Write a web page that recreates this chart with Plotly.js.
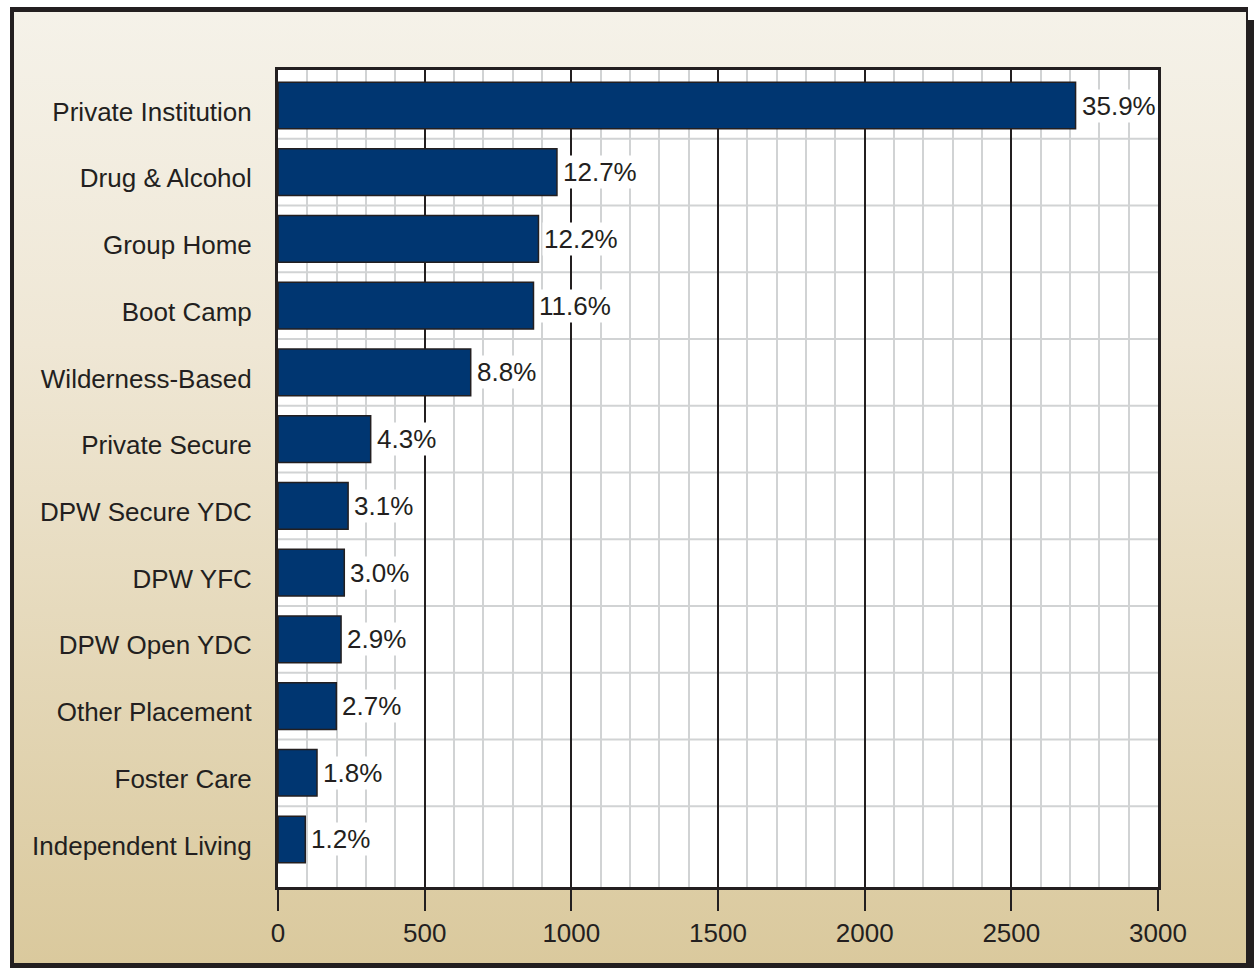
<!DOCTYPE html>
<html>
<head>
<meta charset="utf-8">
<script src="https://cdn.plot.ly/plotly-3.0.1.min.js"></script>
<style>
  html, body { margin: 0; padding: 0; width: 1254px; height: 968px; overflow: hidden; background: #ffffff; }
  #frame { position: absolute; left: 10px; top: 7px; width: 1238px; height: 961px; box-sizing: border-box;
           border-left: 4px solid #231f20; border-top: 5px solid #231f20; border-right: 2px solid #231f20; border-bottom: 5px solid #231f20;
           background: linear-gradient(to bottom, #f5f2e9 0%, #efe7d5 35%, #dac99d 100%); }
  #shadow { position: absolute; left: 1246px; top: 20px; width: 8px; height: 948px; background: #231f20; }
  #chart { position: absolute; left: 0; top: 0; width: 1254px; height: 968px; }
</style>
</head>
<body>
<div id="frame"></div>
<div id="shadow"></div>
<div id="chart"></div>
<script>
const categories = ["Private Institution", "Drug & Alcohol", "Group Home", "Boot Camp", "Wilderness-Based",
  "Private Secure", "DPW Secure YDC", "DPW YFC", "DPW Open YDC", "Other Placement", "Foster Care", "Independent Living"];
const values = [2719, 951, 888, 871, 657, 316, 239, 226, 215, 199, 133, 93];
const pctLabels = ["35.9%", "12.7%", "12.2%", "11.6%", "8.8%", "4.3%", "3.1%", "3.0%", "2.9%", "2.7%", "1.8%", "1.2%"];
const xTicks = [0, 500, 1000, 1500, 2000, 2500, 3000];

const ink = "#231f20";
const fontFam = "'Liberation Sans', Arial, Helvetica, sans-serif";

const trace = {
  type: "bar",
  orientation: "h",
  x: values,
  y: categories,
  width: 0.7,
  marker: { color: "#003671", line: { color: ink, width: 1.5 } },
  hoverinfo: "x+y"
};

const annotations = categories.map((c, i) => ({
  x: values[i], y: c, xref: "x", yref: "y",
  text: pctLabels[i], showarrow: false,
  xanchor: "left", yanchor: "middle", xshift: 4,
  bgcolor: "#ffffff", borderpad: 1,
  font: { family: fontFam, size: 26, color: ink }
}));

const shapes = categories.slice(0, -1).map((c, i) => ({
  type: "line", xref: "paper", x0: 0, x1: 1, yref: "y", y0: i + 0.5, y1: i + 0.5,
  line: { color: "#d1d3d4", width: 2 }, layer: "below"
}));

const layout = {
  width: 1254, height: 968,
  margin: { l: 278, r: 96, t: 70, b: 81, pad: 0 },
  paper_bgcolor: "rgba(0,0,0,0)",
  plot_bgcolor: "#ffffff",
  showlegend: false,
  font: { family: fontFam, size: 26, color: ink },
  xaxis: {
    range: [0, 3000], tickvals: xTicks, ticktext: xTicks.map(String),
    showgrid: true, gridcolor: ink, gridwidth: 2,
    minor: { dtick: 100, tick0: 0, showgrid: true, gridcolor: "#d1d3d4", gridwidth: 2, ticks: "" },
    ticks: "outside", ticklen: 21, tickwidth: 2, tickcolor: ink,
    showline: true, mirror: true, linecolor: ink, linewidth: 3,
    zeroline: false, tickfont: { family: fontFam, size: 26, color: ink },
    ticklabelstandoff: 0, fixedrange: true
  },
  yaxis: {
    type: "category", categoryorder: "array", categoryarray: categories,
    range: [11.712, -0.532],
    showgrid: false, ticks: "", showline: true, mirror: true, linecolor: ink, linewidth: 3,
    zeroline: false, tickfont: { family: fontFam, size: 26, color: ink },
    ticklabelstandoff: 18, ticklabelshift: -6, fixedrange: true
  },
  annotations: annotations,
  shapes: shapes
};

Plotly.newPlot("chart", [trace], layout, { displayModeBar: false, staticPlot: true });
</script>
</body>
</html>
